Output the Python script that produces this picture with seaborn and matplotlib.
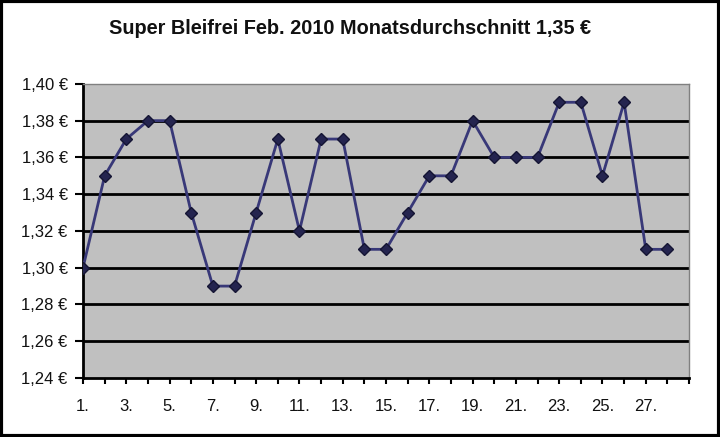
import matplotlib
matplotlib.use("Agg")
from matplotlib import pyplot as plt
from matplotlib.ticker import FuncFormatter, MultipleLocator
from matplotlib.patches import Rectangle
import pandas as pd
import seaborn as sns

# Tagespreise Super Bleifrei, Februar 2010
days = list(range(1, 29))
prices = [1.30, 1.35, 1.37, 1.38, 1.38, 1.33, 1.29, 1.29, 1.33, 1.37,
          1.32, 1.37, 1.37, 1.31, 1.31, 1.33, 1.35, 1.35, 1.38, 1.36,
          1.36, 1.36, 1.39, 1.39, 1.35, 1.39, 1.31, 1.31]
x_tick_values = list(range(1, 29, 2))
x_tick_labels = [f"{d}." for d in x_tick_values]
title = "Super Bleifrei Feb. 2010 Monatsdurchschnitt 1,35 €"

df = pd.DataFrame({"Tag": days, "Preis": prices})

sns.set_style("white")
plt.rcParams["font.family"] = ["Liberation Sans", "DejaVu Sans"]

fig = plt.figure(figsize=(7.2, 4.37), dpi=100)
ax = fig.add_axes([0.1153, 0.135, 0.8417, 0.673])
ax.set_facecolor("#c0c0c0")

for v in [1.26, 1.28, 1.30, 1.32, 1.34, 1.36, 1.38]:
    ax.axhline(v, color="black", lw=2, zorder=1)

sns.lineplot(data=df, x="Tag", y="Preis", ax=ax, color="#383878", lw=2,
             marker="D", markersize=6.5, markerfacecolor="#24244f",
             markeredgecolor="#141433", markeredgewidth=1, zorder=3)

ax.set_xlim(1, 29)
ax.set_ylim(1.24, 1.40)
ax.yaxis.set_major_locator(MultipleLocator(0.02))
ax.yaxis.set_major_formatter(FuncFormatter(lambda v, p: f"{v:.2f} €".replace(".", ",")))
ax.set_xticks(range(1, 30), minor=True)
ax.set_xticks(x_tick_values)
ax.set_xticklabels(x_tick_labels)
ax.set_xlabel("")
ax.set_ylabel("")

ax.tick_params(axis="y", which="major", direction="out", length=6, width=1.5,
               color="black", labelsize=12, pad=5, left=True, labelcolor="#111111")
ax.tick_params(axis="x", which="major", direction="out", length=4, width=1.5,
               color="black", labelsize=12, pad=11, bottom=True, labelcolor="#111111")
ax.tick_params(axis="x", which="minor", direction="out", length=4, width=1.5,
               color="black", bottom=True)

for side in ["left", "bottom"]:
    ax.spines[side].set_color("black")
    ax.spines[side].set_linewidth(2)
for side in ["top", "right"]:
    ax.spines[side].set_color("#808080")
    ax.spines[side].set_linewidth(1)

fig.text(0.486, 0.935, title, ha="center", va="center", fontsize=14.3,
         fontweight="bold", color="#111111")

fig.patches.append(Rectangle((0.002, 0.003), 0.996, 0.994, transform=fig.transFigure,
                             fill=False, edgecolor="black", lw=3))

fig.savefig("out.png", dpi=100)
